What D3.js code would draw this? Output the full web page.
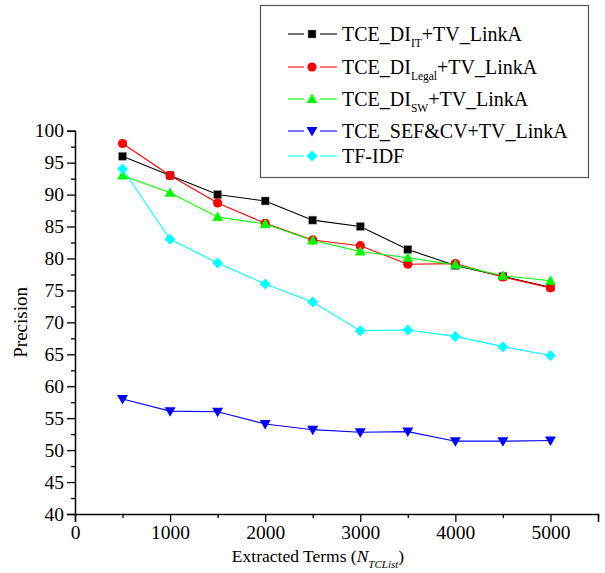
<!DOCTYPE html>
<html>
<head>
<meta charset="utf-8">
<script src="https://cdn.jsdelivr.net/npm/d3@7"></script>
<style>
  body { margin: 0; background: #fff; }
  svg text { font-family: "Liberation Serif", "Times New Roman", serif !important; }
</style>
</head>
<body>
<div></div>
<script>
var width = 605;
var height = 573;

// data
var terms = [500, 1000, 1500, 2000, 2500, 3000, 3500, 4000, 4500, 5000];
var diIT = [96, 93, 90, 89, 86, 85, 81.4, 78.9, 77.2, 75.5];
var diLegal = [98, 93, 88.7, 85.5, 82.9, 82, 79.1, 79.2, 77.1, 75.4];
var diSW = [93, 90.3, 86.5, 85.4, 82.8, 81.1, 80.1, 79, 77.3, 76.5];
var sefCV = [58, 56.1, 56, 54.1, 53.2, 52.8, 52.9, 51.4, 51.4, 51.5];
var tfidf = [94, 83, 79.3, 76, 73.2, 68.7, 68.8, 67.8, 66.2, 64.8];

var xTicks = [0, 1000, 2000, 3000, 4000, 5000];
var yTicks = [40, 45, 50, 55, 60, 65, 70, 75, 80, 85, 90, 95, 100];

var series = [
  { name: "TCE_DI", sub: "IT", rest: "+TV_LinkA", values: diIT, color: "#000000", symbol: "square" },
  { name: "TCE_DI", sub: "Legal", rest: "+TV_LinkA", values: diLegal, color: "#ff0000", symbol: "circle" },
  { name: "TCE_DI", sub: "SW", rest: "+TV_LinkA", values: diSW, color: "#00ff00", symbol: "triangle" },
  { name: "TCE_SEF&CV+TV_LinkA", sub: "", rest: "", values: sefCV, color: "#0000ff", symbol: "triangleDown" },
  { name: "TF-IDF", sub: "", rest: "", values: tfidf, color: "#00ffff", symbol: "diamond" }
];

var svg = d3.select("div")
  .append("svg")
  .attr("width", width)
  .attr("height", height);

var x = d3.scaleLinear().domain([0, 5500]).range([75, 598]);
var y = d3.scaleLinear().domain([40, 100]).range([514, 130.7]);

// marker shapes
function marker(g, type, color) {
  if (type === "square") {
    g.append("rect").attr("x", -4).attr("y", -4).attr("width", 8).attr("height", 8)
      .attr("fill", color).attr("stroke", "#999").attr("stroke-width", 0.5);
  } else if (type === "circle") {
    g.append("circle").attr("r", 4.6).attr("fill", color);
  } else if (type === "triangle") {
    g.append("path").attr("d", "M0,-5.5L5.5,4L-5.5,4Z").attr("fill", color);
  } else if (type === "triangleDown") {
    g.append("path").attr("d", "M0,5.5L5.5,-4L-5.5,-4Z").attr("fill", color);
  } else if (type === "diamond") {
    g.append("path").attr("d", "M0,-5.5L5.5,0L0,5.5L-5.5,0Z").attr("fill", color);
  }
}

// axes
svg.append("g")
  .attr("transform", `translate(0,${y(40)})`)
  .call(d3.axisBottom(x).tickValues(xTicks).tickSize(8).tickPadding(3).tickFormat(d3.format("d")));
svg.append("g")
  .attr("transform", `translate(0,${y(40)})`)
  .call(d3.axisBottom(x).tickValues(d3.range(500, 5501, 1000)).tickSize(4).tickFormat(""))
  .call((g) => g.select(".domain").remove());

svg.append("g")
  .attr("transform", `translate(${x(0)},0)`)
  .call(d3.axisLeft(y).tickValues(yTicks).tickSize(8).tickPadding(3));
svg.append("g")
  .attr("transform", `translate(${x(0)},0)`)
  .call(d3.axisLeft(y).tickValues(d3.range(42.5, 100, 5)).tickSize(4).tickFormat(""))
  .call((g) => g.select(".domain").remove());

svg.selectAll(".domain").attr("stroke-width", 1.5);
svg.selectAll(".tick line").attr("stroke-width", 1.3);
svg.selectAll(".tick text")
  .attr("font-size", 19.5)
  .attr("fill", "#000");

// axis titles
svg.append("text")
  .attr("transform", `translate(27,${y(70)}) rotate(-90)`)
  .attr("text-anchor", "middle")
  .attr("font-size", 19)
  .text("Precision");

var xl = svg.append("text")
  .attr("x", 318)
  .attr("y", 562)
  .attr("text-anchor", "middle")
  .attr("font-size", 17.5);
xl.append("tspan").text("Extracted Terms (");
xl.append("tspan").attr("font-style", "italic").text("N");
xl.append("tspan").attr("font-style", "italic").attr("font-size", 11).attr("dy", 6).text("TCList");
xl.append("tspan").attr("dy", -6).text(")");

// lines and markers
var line = d3.line()
  .x((d, i) => x(terms[i]))
  .y((d) => y(d));

series.forEach((s) => {
  svg.append("path")
    .datum(s.values)
    .attr("fill", "none")
    .attr("stroke", s.color)
    .attr("stroke-width", 1.1)
    .attr("d", line);
});
series.forEach((s) => {
  s.values.forEach((v, i) => {
    var g = svg.append("g").attr("transform", `translate(${x(terms[i])},${y(v)})`);
    marker(g, s.symbol, s.color);
  });
});

// legend
var legend = svg.append("g");
legend.append("rect")
  .attr("x", 260.5).attr("y", 5.5)
  .attr("width", 328).attr("height", 172)
  .attr("fill", "#fff")
  .attr("stroke", "#555")
  .attr("stroke-width", 1.2);

var rowY = [34, 67, 99, 131, 156];
series.forEach((s, i) => {
  var ly = rowY[i];
  var item = legend.append("g");
  item.append("line")
    .attr("x1", 288).attr("x2", 304).attr("y1", ly).attr("y2", ly)
    .attr("stroke", s.color).attr("stroke-width", 1.1);
  item.append("line")
    .attr("x1", 320).attr("x2", 337).attr("y1", ly).attr("y2", ly)
    .attr("stroke", s.color).attr("stroke-width", 1.1);
  marker(item.append("g").attr("transform", `translate(312,${ly})`), s.symbol, s.color);

  var t = item.append("text")
    .attr("x", 342)
    .attr("y", ly + 7)
    .attr("font-size", 20);
  t.append("tspan").text(s.name);
  if (s.sub) {
    t.append("tspan").attr("font-size", 11.5).attr("dy", 6).text(s.sub);
    t.append("tspan").attr("dy", -6).text(s.rest);
  }
});
</script>
</body>
</html>
